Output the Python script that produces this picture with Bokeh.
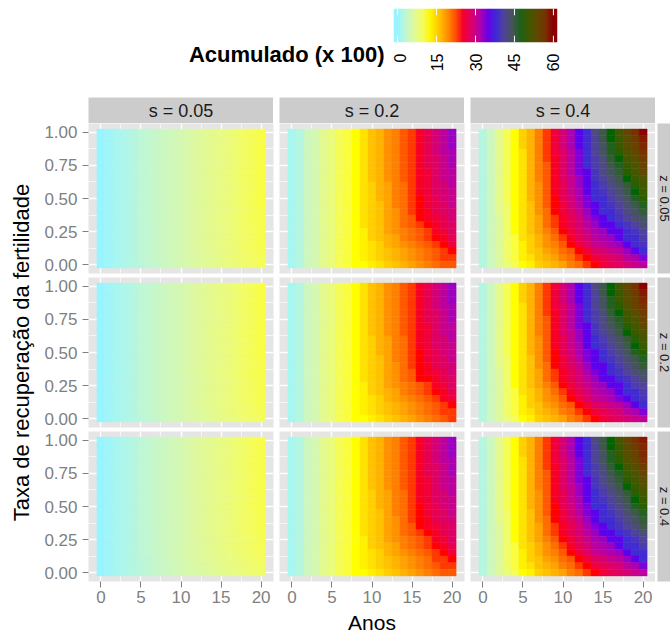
import math
import numpy as np
from bokeh.plotting import figure
from bokeh.layouts import column, row
from bokeh.models import (LinearColorMapper, FixedTicker, PrintfTickFormatter, Range1d,
                          ColumnDataSource, Spacer, Grid)
from bokeh.core.properties import value
from bokeh.embed import file_html
from bokeh.resources import INLINE

# ---------------------------------------------------------------- data
anos = list(range(21))
# grid rows run from recovery rate 1.00 (first row) down to 0.00 (last row)
taxa_linhas = [1.00, 0.95, 0.90, 0.85, 0.80, 0.75, 0.70, 0.65, 0.60, 0.55, 0.50,
               0.45, 0.40, 0.35, 0.30, 0.25, 0.20, 0.15, 0.10, 0.05, 0.00]
s_rotulos = ["s = 0.05", "s = 0.2", "s = 0.4"]
z_rotulos = ["z = 0.05", "z = 0.2", "z = 0.4"]
x_ticks = [0, 5, 10, 15, 20]
x_minor = [2.5, 7.5, 12.5, 17.5]
y_ticks = [0.0, 0.25, 0.5, 0.75, 1.0]
y_minor = [0.125, 0.375, 0.625, 0.875]
legenda_ticks = [0, 15, 30, 45, 60]

acum_s005_z005 = [
    [0.0, 0.5, 1.1, 1.6, 2.1, 2.6, 3.1, 3.6, 4.1, 4.6, 5.1, 5.6, 6.1, 6.6, 7.2, 7.7, 8.2, 8.8, 9.4, 10.0, 10.6],
    [0.0, 0.5, 1.1, 1.6, 2.1, 2.6, 3.1, 3.6, 4.1, 4.6, 5.1, 5.6, 6.1, 6.6, 7.2, 7.7, 8.2, 8.8, 9.4, 10.0, 10.6],
    [0.0, 0.5, 1.1, 1.6, 2.1, 2.6, 3.1, 3.6, 4.1, 4.6, 5.1, 5.6, 6.1, 6.6, 7.2, 7.7, 8.2, 8.8, 9.4, 10.0, 10.6],
    [0.0, 0.5, 1.1, 1.6, 2.1, 2.6, 3.1, 3.6, 4.1, 4.6, 5.1, 5.6, 6.1, 6.6, 7.2, 7.7, 8.2, 8.8, 9.4, 10.0, 10.6],
    [0.0, 0.5, 1.1, 1.6, 2.1, 2.6, 3.1, 3.6, 4.1, 4.6, 5.1, 5.6, 6.1, 6.6, 7.2, 7.7, 8.2, 8.8, 9.4, 10.0, 10.6],
    [0.0, 0.5, 1.1, 1.6, 2.1, 2.6, 3.1, 3.6, 4.1, 4.6, 5.1, 5.6, 6.1, 6.6, 7.2, 7.7, 8.2, 8.8, 9.4, 10.0, 10.6],
    [0.0, 0.5, 1.1, 1.6, 2.1, 2.6, 3.1, 3.6, 4.1, 4.6, 5.1, 5.6, 6.1, 6.6, 7.2, 7.7, 8.2, 8.8, 9.4, 10.0, 10.6],
    [0.0, 0.5, 1.1, 1.6, 2.1, 2.6, 3.1, 3.6, 4.1, 4.6, 5.1, 5.6, 6.1, 6.6, 7.2, 7.7, 8.2, 8.8, 9.4, 10.0, 10.6],
    [0.0, 0.5, 1.1, 1.6, 2.1, 2.6, 3.1, 3.6, 4.1, 4.6, 5.1, 5.6, 6.1, 6.6, 7.2, 7.7, 8.2, 8.8, 9.4, 10.0, 10.6],
    [0.0, 0.5, 1.1, 1.6, 2.1, 2.6, 3.1, 3.6, 4.1, 4.6, 5.1, 5.6, 6.1, 6.6, 7.2, 7.7, 8.2, 8.8, 9.4, 10.0, 10.6],
    [0.0, 0.5, 1.1, 1.6, 2.1, 2.6, 3.1, 3.6, 4.1, 4.6, 5.1, 5.6, 6.1, 6.6, 7.2, 7.7, 8.2, 8.8, 9.4, 10.0, 10.6],
    [0.0, 0.5, 1.1, 1.6, 2.1, 2.6, 3.1, 3.6, 4.1, 4.6, 5.1, 5.6, 6.1, 6.6, 7.2, 7.7, 8.2, 8.8, 9.4, 10.0, 10.6],
    [0.0, 0.5, 1.1, 1.6, 2.1, 2.6, 3.1, 3.6, 4.1, 4.6, 5.1, 5.6, 6.1, 6.6, 7.2, 7.7, 8.2, 8.8, 9.4, 10.0, 10.5],
    [0.0, 0.5, 1.1, 1.6, 2.1, 2.6, 3.1, 3.6, 4.1, 4.6, 5.1, 5.6, 6.1, 6.6, 7.2, 7.7, 8.2, 8.8, 9.4, 10.0, 10.5],
    [0.0, 0.5, 1.1, 1.6, 2.1, 2.6, 3.1, 3.6, 4.1, 4.6, 5.1, 5.6, 6.1, 6.6, 7.2, 7.7, 8.2, 8.8, 9.4, 9.9, 10.5],
    [0.0, 0.5, 1.1, 1.6, 2.1, 2.6, 3.1, 3.6, 4.1, 4.6, 5.1, 5.6, 6.1, 6.6, 7.1, 7.7, 8.2, 8.7, 9.3, 9.9, 10.4],
    [0.0, 0.5, 1.1, 1.6, 2.1, 2.6, 3.1, 3.6, 4.1, 4.6, 5.1, 5.6, 6.1, 6.6, 7.1, 7.6, 8.1, 8.7, 9.3, 9.8, 10.4],
    [0.0, 0.5, 1.1, 1.6, 2.1, 2.6, 3.1, 3.6, 4.1, 4.6, 5.1, 5.6, 6.1, 6.6, 7.1, 7.6, 8.1, 8.6, 9.2, 9.8, 10.3],
    [0.0, 0.5, 1.1, 1.6, 2.1, 2.6, 3.1, 3.6, 4.1, 4.6, 5.1, 5.6, 6.1, 6.6, 7.1, 7.6, 8.1, 8.6, 9.2, 9.7, 10.2],
    [0.0, 0.5, 1.1, 1.6, 2.1, 2.6, 3.1, 3.6, 4.1, 4.6, 5.0, 5.5, 6.0, 6.5, 7.0, 7.5, 8.0, 8.5, 9.0, 9.5, 10.0],
    [0.0, 0.5, 1.0, 1.5, 2.0, 2.5, 3.0, 3.5, 4.0, 4.5, 5.0, 5.4, 5.9, 6.4, 6.9, 7.3, 7.8, 8.3, 8.8, 9.2, 9.7],
]

acum_s005_z02 = [
    [0.0, 0.5, 1.1, 1.6, 2.1, 2.6, 3.1, 3.6, 4.1, 4.6, 5.1, 5.6, 6.1, 6.6, 7.2, 7.7, 8.2, 8.8, 9.4, 10.0, 10.6],
    [0.0, 0.5, 1.1, 1.6, 2.1, 2.6, 3.1, 3.6, 4.1, 4.6, 5.1, 5.6, 6.1, 6.6, 7.2, 7.7, 8.2, 8.8, 9.4, 10.0, 10.6],
    [0.0, 0.5, 1.1, 1.6, 2.1, 2.6, 3.1, 3.6, 4.1, 4.6, 5.1, 5.6, 6.1, 6.6, 7.2, 7.7, 8.2, 8.8, 9.4, 10.0, 10.6],
    [0.0, 0.5, 1.1, 1.6, 2.1, 2.6, 3.1, 3.6, 4.1, 4.6, 5.1, 5.6, 6.1, 6.6, 7.2, 7.7, 8.2, 8.8, 9.4, 10.0, 10.6],
    [0.0, 0.5, 1.1, 1.6, 2.1, 2.6, 3.1, 3.6, 4.1, 4.6, 5.1, 5.6, 6.1, 6.6, 7.2, 7.7, 8.2, 8.8, 9.4, 10.0, 10.6],
    [0.0, 0.5, 1.1, 1.6, 2.1, 2.6, 3.1, 3.6, 4.1, 4.6, 5.1, 5.6, 6.1, 6.6, 7.2, 7.7, 8.2, 8.8, 9.4, 10.0, 10.6],
    [0.0, 0.5, 1.1, 1.6, 2.1, 2.6, 3.1, 3.6, 4.1, 4.6, 5.1, 5.6, 6.1, 6.6, 7.2, 7.7, 8.2, 8.8, 9.4, 10.0, 10.6],
    [0.0, 0.5, 1.1, 1.6, 2.1, 2.6, 3.1, 3.6, 4.1, 4.6, 5.1, 5.6, 6.1, 6.6, 7.2, 7.7, 8.2, 8.8, 9.4, 10.0, 10.6],
    [0.0, 0.5, 1.1, 1.6, 2.1, 2.6, 3.1, 3.6, 4.1, 4.6, 5.1, 5.6, 6.1, 6.6, 7.2, 7.7, 8.2, 8.8, 9.4, 10.0, 10.6],
    [0.0, 0.5, 1.1, 1.6, 2.1, 2.6, 3.1, 3.6, 4.1, 4.6, 5.1, 5.6, 6.1, 6.6, 7.2, 7.7, 8.2, 8.8, 9.4, 10.0, 10.6],
    [0.0, 0.5, 1.1, 1.6, 2.1, 2.6, 3.1, 3.6, 4.1, 4.6, 5.1, 5.6, 6.1, 6.6, 7.2, 7.7, 8.2, 8.8, 9.4, 10.0, 10.6],
    [0.0, 0.5, 1.1, 1.6, 2.1, 2.6, 3.1, 3.6, 4.1, 4.6, 5.1, 5.6, 6.1, 6.6, 7.2, 7.7, 8.2, 8.8, 9.4, 10.0, 10.6],
    [0.0, 0.5, 1.1, 1.6, 2.1, 2.6, 3.1, 3.6, 4.1, 4.6, 5.1, 5.6, 6.1, 6.6, 7.2, 7.7, 8.2, 8.8, 9.4, 10.0, 10.5],
    [0.0, 0.5, 1.1, 1.6, 2.1, 2.6, 3.1, 3.6, 4.1, 4.6, 5.1, 5.6, 6.1, 6.6, 7.2, 7.7, 8.2, 8.8, 9.4, 10.0, 10.5],
    [0.0, 0.5, 1.1, 1.6, 2.1, 2.6, 3.1, 3.6, 4.1, 4.6, 5.1, 5.6, 6.1, 6.6, 7.2, 7.7, 8.2, 8.8, 9.4, 9.9, 10.5],
    [0.0, 0.5, 1.1, 1.6, 2.1, 2.6, 3.1, 3.6, 4.1, 4.6, 5.1, 5.6, 6.1, 6.6, 7.1, 7.7, 8.2, 8.7, 9.3, 9.9, 10.4],
    [0.0, 0.5, 1.1, 1.6, 2.1, 2.6, 3.1, 3.6, 4.1, 4.6, 5.1, 5.6, 6.1, 6.6, 7.1, 7.6, 8.1, 8.7, 9.3, 9.8, 10.4],
    [0.0, 0.5, 1.1, 1.6, 2.1, 2.6, 3.1, 3.6, 4.1, 4.6, 5.1, 5.6, 6.1, 6.6, 7.1, 7.6, 8.1, 8.6, 9.2, 9.8, 10.3],
    [0.0, 0.5, 1.1, 1.6, 2.1, 2.6, 3.1, 3.6, 4.1, 4.6, 5.1, 5.6, 6.1, 6.6, 7.1, 7.6, 8.1, 8.6, 9.1, 9.7, 10.2],
    [0.0, 0.5, 1.1, 1.6, 2.1, 2.6, 3.1, 3.6, 4.1, 4.6, 5.0, 5.5, 6.0, 6.5, 7.0, 7.5, 8.0, 8.5, 9.0, 9.5, 10.0],
    [0.0, 0.5, 1.0, 1.5, 2.0, 2.5, 3.0, 3.5, 4.0, 4.5, 5.0, 5.4, 5.9, 6.4, 6.9, 7.3, 7.8, 8.2, 8.7, 9.1, 9.6],
]

acum_s005_z04 = [
    [0.0, 0.5, 1.1, 1.6, 2.1, 2.6, 3.1, 3.6, 4.1, 4.6, 5.1, 5.6, 6.1, 6.6, 7.1, 7.6, 8.1, 8.7, 9.3, 9.9, 10.5],
    [0.0, 0.5, 1.1, 1.6, 2.1, 2.6, 3.1, 3.6, 4.1, 4.6, 5.1, 5.6, 6.1, 6.6, 7.1, 7.6, 8.1, 8.7, 9.3, 9.9, 10.5],
    [0.0, 0.5, 1.1, 1.6, 2.1, 2.6, 3.1, 3.6, 4.1, 4.6, 5.1, 5.6, 6.1, 6.6, 7.1, 7.6, 8.1, 8.7, 9.3, 9.9, 10.5],
    [0.0, 0.5, 1.1, 1.6, 2.1, 2.6, 3.1, 3.6, 4.1, 4.6, 5.1, 5.6, 6.1, 6.6, 7.1, 7.6, 8.1, 8.7, 9.3, 9.9, 10.5],
    [0.0, 0.5, 1.1, 1.6, 2.1, 2.6, 3.1, 3.6, 4.1, 4.6, 5.1, 5.6, 6.1, 6.6, 7.1, 7.6, 8.1, 8.7, 9.3, 9.9, 10.5],
    [0.0, 0.5, 1.1, 1.6, 2.1, 2.6, 3.1, 3.6, 4.1, 4.6, 5.1, 5.6, 6.1, 6.6, 7.1, 7.6, 8.1, 8.7, 9.3, 9.9, 10.5],
    [0.0, 0.5, 1.1, 1.6, 2.1, 2.6, 3.1, 3.6, 4.1, 4.6, 5.1, 5.6, 6.1, 6.6, 7.1, 7.6, 8.1, 8.7, 9.3, 9.9, 10.5],
    [0.0, 0.5, 1.1, 1.6, 2.1, 2.6, 3.1, 3.6, 4.1, 4.6, 5.1, 5.6, 6.1, 6.6, 7.1, 7.6, 8.1, 8.7, 9.3, 9.9, 10.5],
    [0.0, 0.5, 1.1, 1.6, 2.1, 2.6, 3.1, 3.6, 4.1, 4.6, 5.1, 5.6, 6.1, 6.6, 7.1, 7.6, 8.1, 8.7, 9.3, 9.9, 10.5],
    [0.0, 0.5, 1.1, 1.6, 2.1, 2.6, 3.1, 3.6, 4.1, 4.6, 5.1, 5.6, 6.1, 6.6, 7.1, 7.6, 8.1, 8.7, 9.3, 9.9, 10.5],
    [0.0, 0.5, 1.1, 1.6, 2.1, 2.6, 3.1, 3.6, 4.1, 4.6, 5.1, 5.6, 6.1, 6.6, 7.1, 7.6, 8.1, 8.7, 9.3, 9.9, 10.4],
    [0.0, 0.5, 1.1, 1.6, 2.1, 2.6, 3.1, 3.6, 4.1, 4.6, 5.1, 5.6, 6.1, 6.6, 7.1, 7.6, 8.1, 8.7, 9.3, 9.9, 10.4],
    [0.0, 0.5, 1.1, 1.6, 2.1, 2.6, 3.1, 3.6, 4.1, 4.6, 5.1, 5.6, 6.1, 6.6, 7.1, 7.6, 8.1, 8.7, 9.3, 9.8, 10.4],
    [0.0, 0.5, 1.1, 1.6, 2.1, 2.6, 3.1, 3.6, 4.1, 4.6, 5.1, 5.6, 6.1, 6.6, 7.1, 7.6, 8.1, 8.7, 9.2, 9.8, 10.3],
    [0.0, 0.5, 1.1, 1.6, 2.1, 2.6, 3.1, 3.6, 4.1, 4.6, 5.1, 5.6, 6.1, 6.6, 7.1, 7.6, 8.1, 8.6, 9.2, 9.7, 10.2],
    [0.0, 0.5, 1.1, 1.6, 2.1, 2.6, 3.1, 3.6, 4.1, 4.6, 5.1, 5.6, 6.1, 6.6, 7.1, 7.6, 8.1, 8.6, 9.1, 9.6, 10.1],
    [0.0, 0.5, 1.1, 1.6, 2.1, 2.6, 3.1, 3.6, 4.1, 4.6, 5.1, 5.6, 6.1, 6.5, 7.0, 7.5, 8.0, 8.5, 9.0, 9.5, 10.0],
    [0.0, 0.5, 1.1, 1.6, 2.1, 2.6, 3.1, 3.6, 4.1, 4.6, 5.0, 5.5, 6.0, 6.5, 7.0, 7.4, 7.9, 8.4, 8.9, 9.4, 9.8],
    [0.0, 0.5, 1.0, 1.5, 2.0, 2.5, 3.0, 3.5, 4.0, 4.5, 5.0, 5.4, 5.9, 6.4, 6.8, 7.3, 7.8, 8.2, 8.7, 9.1, 9.5],
    [0.0, 0.5, 1.0, 1.5, 2.0, 2.5, 3.0, 3.5, 3.9, 4.4, 4.9, 5.3, 5.8, 6.2, 6.7, 7.1, 7.5, 8.0, 8.4, 8.8, 9.2],
    [0.0, 0.5, 1.0, 1.5, 2.0, 2.4, 2.9, 3.4, 3.8, 4.3, 4.7, 5.2, 5.6, 6.0, 6.5, 6.9, 7.3, 7.7, 8.1, 8.5, 8.9],
]

acum_s02_z005 = [
    [1, 2, 4, 5, 7, 8, 10, 11, 12, 14, 16, 17, 19, 20, 22, 23, 25, 27, 29, 31, 33],
    [1, 2, 4, 5, 7, 8, 10, 11, 12, 14, 16, 17, 19, 20, 22, 23, 25, 27, 29, 31, 33],
    [1, 2, 4, 5, 7, 8, 10, 11, 12, 14, 16, 17, 19, 20, 22, 23, 25, 27, 29, 31, 33],
    [1, 2, 4, 5, 7, 8, 10, 11, 12, 14, 16, 17, 19, 20, 22, 23, 25, 27, 29, 31, 32],
    [1, 2, 4, 5, 7, 8, 10, 11, 12, 14, 16, 17, 19, 20, 22, 23, 25, 27, 28, 30, 32],
    [1, 2, 4, 5, 7, 8, 10, 11, 12, 14, 16, 17, 19, 20, 22, 23, 25, 27, 28, 30, 32],
    [1, 2, 4, 5, 7, 8, 10, 11, 12, 14, 16, 17, 19, 20, 22, 23, 25, 26, 28, 30, 31],
    [1, 2, 4, 5, 7, 8, 10, 11, 12, 14, 16, 17, 19, 20, 22, 23, 25, 26, 28, 30, 31],
    [1, 2, 4, 5, 7, 8, 10, 11, 12, 14, 15, 17, 18, 20, 21, 23, 25, 26, 28, 29, 31],
    [1, 2, 4, 5, 7, 8, 10, 11, 12, 14, 15, 17, 18, 20, 21, 23, 25, 26, 28, 29, 30],
    [1, 2, 4, 5, 7, 8, 10, 11, 12, 14, 15, 17, 18, 20, 21, 23, 24, 26, 27, 29, 30],
    [1, 2, 4, 5, 7, 8, 10, 11, 12, 14, 15, 16, 18, 20, 21, 23, 24, 26, 27, 28, 30],
    [1, 2, 4, 5, 7, 8, 10, 11, 12, 14, 15, 16, 18, 19, 21, 23, 24, 25, 27, 28, 29],
    [1, 2, 4, 5, 7, 8, 10, 11, 12, 14, 15, 16, 18, 19, 21, 22, 24, 25, 26, 27, 29],
    [1, 2, 4, 5, 7, 8, 10, 11, 12, 14, 15, 16, 18, 19, 21, 22, 23, 24, 25, 27, 28],
    [1, 2, 4, 5, 7, 8, 10, 11, 12, 13, 15, 16, 18, 19, 20, 21, 22, 23, 25, 26, 28],
    [1, 2, 4, 5, 7, 8, 10, 11, 12, 13, 15, 16, 17, 18, 20, 21, 22, 23, 24, 25, 27],
    [1, 2, 4, 5, 7, 8, 10, 11, 12, 13, 14, 15, 17, 18, 19, 20, 21, 22, 23, 24, 26],
    [1, 2, 4, 5, 7, 8, 10, 11, 12, 13, 14, 15, 16, 17, 18, 19, 20, 21, 22, 23, 24],
    [1, 2, 4, 5, 7, 8, 10, 11, 12, 13, 14, 15, 16, 17, 18, 19, 20, 21, 22, 23, 23],
    [1, 2, 4, 5, 7, 8, 10, 11, 12, 12, 13, 14, 15, 16, 17, 18, 19, 20, 21, 22, 22],
]

acum_s02_z02 = [
    [1, 2, 4, 5, 7, 8, 10, 11, 12, 14, 16, 17, 19, 20, 22, 23, 25, 27, 29, 31, 33],
    [1, 2, 4, 5, 7, 8, 10, 11, 12, 14, 16, 17, 19, 20, 22, 23, 25, 27, 29, 31, 33],
    [1, 2, 4, 5, 7, 8, 10, 11, 12, 14, 16, 17, 19, 20, 22, 23, 25, 27, 29, 31, 33],
    [1, 2, 4, 5, 7, 8, 10, 11, 12, 14, 16, 17, 19, 20, 22, 23, 25, 27, 29, 31, 32],
    [1, 2, 4, 5, 7, 8, 10, 11, 12, 14, 16, 17, 19, 20, 22, 23, 25, 27, 28, 30, 32],
    [1, 2, 4, 5, 7, 8, 10, 11, 12, 14, 16, 17, 19, 20, 22, 23, 25, 27, 28, 30, 32],
    [1, 2, 4, 5, 7, 8, 10, 11, 12, 14, 16, 17, 19, 20, 22, 23, 25, 26, 28, 30, 31],
    [1, 2, 4, 5, 7, 8, 10, 11, 12, 14, 16, 17, 19, 20, 22, 23, 25, 26, 28, 30, 31],
    [1, 2, 4, 5, 7, 8, 10, 11, 12, 14, 15, 17, 18, 20, 21, 23, 25, 26, 28, 29, 31],
    [1, 2, 4, 5, 7, 8, 10, 11, 12, 14, 15, 17, 18, 20, 21, 23, 25, 26, 28, 29, 30],
    [1, 2, 4, 5, 7, 8, 10, 11, 12, 14, 15, 17, 18, 20, 21, 23, 24, 26, 27, 29, 30],
    [1, 2, 4, 5, 7, 8, 10, 11, 12, 14, 15, 16, 18, 20, 21, 23, 24, 26, 27, 28, 30],
    [1, 2, 4, 5, 7, 8, 10, 11, 12, 14, 15, 16, 18, 19, 21, 23, 24, 25, 27, 28, 29],
    [1, 2, 4, 5, 7, 8, 10, 11, 12, 14, 15, 16, 18, 19, 21, 22, 24, 25, 26, 27, 29],
    [1, 2, 4, 5, 7, 8, 10, 11, 12, 14, 15, 16, 18, 19, 21, 22, 24, 24, 25, 27, 28],
    [1, 2, 4, 5, 7, 8, 10, 11, 12, 13, 15, 16, 18, 19, 20, 21, 22, 23, 25, 26, 28],
    [1, 2, 4, 5, 7, 8, 10, 11, 12, 13, 15, 16, 17, 18, 20, 21, 22, 23, 24, 25, 27],
    [1, 2, 4, 5, 7, 8, 10, 11, 12, 13, 14, 15, 17, 18, 19, 20, 21, 22, 23, 25, 26],
    [1, 2, 4, 5, 7, 8, 10, 11, 12, 13, 14, 15, 16, 17, 18, 19, 20, 21, 22, 23, 24],
    [1, 2, 4, 5, 7, 8, 10, 11, 12, 13, 14, 15, 16, 17, 18, 19, 20, 21, 22, 23, 23],
    [1, 2, 4, 5, 7, 8, 10, 11, 12, 12, 13, 14, 15, 16, 17, 18, 19, 20, 21, 22, 23],
]

acum_s02_z04 = [
    [1, 2, 4, 5, 7, 8, 10, 11, 12, 14, 16, 17, 19, 20, 22, 23, 25, 27, 29, 31, 33],
    [1, 2, 4, 5, 7, 8, 10, 11, 12, 14, 16, 17, 19, 20, 22, 23, 25, 27, 29, 31, 33],
    [1, 2, 4, 5, 7, 8, 10, 11, 12, 14, 16, 17, 19, 20, 22, 23, 25, 27, 29, 31, 33],
    [1, 2, 4, 5, 7, 8, 10, 11, 12, 14, 16, 17, 19, 20, 22, 23, 25, 27, 29, 31, 32],
    [1, 2, 4, 5, 7, 8, 10, 11, 12, 14, 16, 17, 19, 20, 22, 23, 25, 27, 28, 30, 32],
    [1, 2, 4, 5, 7, 8, 10, 11, 12, 14, 16, 17, 19, 20, 22, 23, 25, 27, 28, 30, 32],
    [1, 2, 4, 5, 7, 8, 10, 11, 12, 14, 16, 17, 19, 20, 22, 23, 25, 26, 28, 30, 31],
    [1, 2, 4, 5, 7, 8, 10, 11, 12, 14, 16, 17, 19, 20, 22, 23, 25, 26, 28, 30, 31],
    [1, 2, 4, 5, 7, 8, 10, 11, 12, 14, 15, 17, 18, 20, 21, 23, 25, 26, 28, 29, 31],
    [1, 2, 4, 5, 7, 8, 10, 11, 12, 14, 15, 17, 18, 20, 21, 23, 25, 26, 28, 29, 30],
    [1, 2, 4, 5, 7, 8, 10, 11, 12, 14, 15, 17, 18, 20, 21, 23, 24, 26, 27, 29, 30],
    [1, 2, 4, 5, 7, 8, 10, 11, 12, 14, 15, 16, 18, 20, 21, 23, 24, 26, 27, 28, 30],
    [1, 2, 4, 5, 7, 8, 10, 11, 12, 14, 15, 16, 18, 19, 21, 23, 24, 25, 27, 28, 29],
    [1, 2, 4, 5, 7, 8, 10, 11, 12, 14, 15, 16, 18, 19, 21, 22, 24, 25, 26, 27, 28],
    [1, 2, 4, 5, 7, 8, 10, 11, 12, 14, 15, 16, 18, 19, 21, 22, 23, 24, 25, 27, 28],
    [1, 2, 4, 5, 7, 8, 10, 11, 12, 13, 15, 16, 18, 19, 20, 21, 22, 23, 25, 26, 28],
    [1, 2, 4, 5, 7, 8, 10, 11, 12, 13, 15, 16, 17, 18, 20, 21, 22, 23, 24, 25, 27],
    [1, 2, 4, 5, 7, 8, 10, 11, 12, 13, 14, 15, 17, 18, 19, 20, 21, 22, 23, 24, 26],
    [1, 2, 4, 5, 7, 8, 10, 11, 12, 13, 14, 15, 16, 17, 18, 19, 20, 21, 23, 23, 24],
    [1, 2, 4, 5, 7, 8, 10, 11, 12, 13, 14, 15, 16, 17, 18, 19, 20, 21, 22, 23, 23],
    [1, 2, 4, 5, 7, 8, 10, 11, 12, 12, 13, 14, 15, 16, 17, 18, 19, 20, 21, 22, 22],
]

acum_s04_z005 = [
    [2, 4, 7, 10, 12, 15, 17, 20, 23, 26, 29, 32, 35, 38, 42, 45, 48, 51, 54, 57, 60],
    [2, 4, 7, 10, 12, 15, 17, 20, 23, 26, 29, 32, 35, 38, 41, 45, 48, 50, 53, 56, 59],
    [2, 4, 7, 10, 12, 15, 17, 20, 23, 26, 29, 32, 35, 38, 41, 44, 47, 50, 53, 55, 58],
    [2, 4, 7, 10, 12, 14, 17, 20, 23, 26, 28, 31, 34, 38, 41, 44, 47, 49, 52, 54, 57],
    [2, 4, 7, 10, 12, 14, 17, 20, 23, 25, 28, 31, 34, 38, 40, 43, 46, 48, 51, 53, 56],
    [2, 4, 7, 10, 12, 14, 17, 20, 22, 25, 28, 31, 34, 38, 40, 42, 45, 47, 50, 52, 55],
    [2, 4, 7, 10, 12, 14, 17, 20, 22, 25, 28, 31, 34, 35, 39, 42, 44, 46, 49, 51, 54],
    [2, 4, 7, 10, 12, 14, 17, 20, 22, 25, 28, 30, 33, 35, 39, 41, 43, 45, 48, 50, 52],
    [2, 4, 7, 10, 12, 14, 17, 19, 22, 25, 27, 30, 33, 35, 38, 40, 42, 44, 46, 49, 51],
    [2, 4, 7, 10, 12, 14, 17, 19, 22, 25, 27, 30, 32, 35, 38, 39, 41, 43, 45, 48, 50],
    [2, 4, 7, 10, 12, 14, 17, 19, 22, 24, 27, 29, 32, 34, 38, 38, 40, 42, 44, 47, 49],
    [2, 4, 7, 9, 12, 14, 16, 19, 22, 24, 26, 29, 31, 34, 35, 38, 39, 41, 43, 45, 47],
    [2, 4, 7, 9, 12, 14, 16, 19, 21, 24, 26, 28, 30, 33, 35, 38, 38, 40, 42, 44, 46],
    [2, 4, 6, 9, 12, 14, 16, 18, 21, 23, 25, 27, 29, 32, 34, 35, 38, 39, 41, 43, 44],
    [2, 4, 6, 9, 12, 14, 16, 18, 21, 23, 25, 27, 29, 31, 33, 35, 35, 38, 39, 41, 43],
    [2, 4, 6, 9, 12, 14, 16, 18, 20, 22, 24, 26, 28, 30, 32, 33, 35, 35, 38, 39, 41],
    [2, 4, 6, 9, 11, 14, 15, 17, 19, 21, 23, 25, 27, 29, 31, 32, 33, 35, 38, 38, 40],
    [2, 4, 6, 9, 11, 13, 15, 17, 19, 20, 22, 24, 26, 28, 30, 31, 32, 33, 35, 38, 39],
    [2, 4, 6, 9, 11, 13, 15, 16, 18, 19, 21, 22, 24, 26, 28, 29, 30, 31, 33, 35, 38],
    [2, 4, 6, 9, 11, 13, 14, 16, 17, 18, 20, 21, 23, 24, 26, 27, 28, 29, 31, 32, 34],
    [2, 4, 6, 8, 10, 12, 13, 15, 16, 17, 18, 20, 21, 23, 24, 26, 27, 28, 29, 30, 31],
]

acum_s04_z02 = [
    [2, 4, 7, 10, 12, 15, 17, 20, 23, 26, 29, 32, 35, 38, 42, 45, 48, 51, 54, 57, 60],
    [2, 4, 7, 10, 12, 15, 17, 20, 23, 26, 29, 32, 35, 38, 41, 45, 48, 50, 53, 56, 59],
    [2, 4, 7, 10, 12, 15, 17, 20, 23, 26, 29, 32, 35, 38, 41, 44, 47, 50, 53, 55, 58],
    [2, 4, 7, 10, 12, 14, 17, 20, 23, 26, 28, 31, 34, 38, 41, 44, 47, 49, 52, 55, 57],
    [2, 4, 7, 10, 12, 14, 17, 20, 23, 25, 28, 31, 34, 38, 40, 43, 46, 48, 51, 53, 56],
    [2, 4, 7, 10, 12, 14, 17, 20, 22, 25, 28, 31, 34, 38, 40, 42, 45, 47, 50, 52, 55],
    [2, 4, 7, 10, 12, 14, 17, 20, 22, 25, 28, 31, 34, 35, 39, 42, 44, 46, 49, 51, 54],
    [2, 4, 7, 10, 12, 14, 17, 20, 22, 25, 28, 30, 33, 35, 39, 41, 43, 45, 48, 50, 52],
    [2, 4, 7, 10, 12, 14, 17, 19, 22, 25, 27, 30, 33, 35, 38, 40, 42, 44, 46, 49, 51],
    [2, 4, 7, 10, 12, 14, 17, 19, 22, 25, 27, 30, 32, 35, 38, 39, 41, 43, 45, 48, 50],
    [2, 4, 7, 10, 12, 14, 17, 19, 22, 24, 27, 29, 32, 34, 35, 38, 40, 42, 44, 47, 49],
    [2, 4, 7, 9, 12, 14, 16, 19, 22, 24, 26, 29, 31, 34, 35, 38, 39, 41, 43, 45, 47],
    [2, 4, 7, 9, 12, 14, 16, 19, 21, 24, 26, 28, 30, 33, 35, 35, 38, 40, 42, 44, 46],
    [2, 4, 6, 9, 12, 14, 16, 18, 21, 23, 25, 27, 29, 32, 34, 35, 38, 39, 41, 43, 44],
    [2, 4, 6, 9, 12, 14, 16, 18, 21, 23, 25, 27, 29, 31, 33, 35, 35, 38, 39, 41, 43],
    [2, 4, 6, 9, 12, 14, 16, 18, 20, 22, 24, 26, 28, 30, 32, 33, 35, 35, 38, 40, 41],
    [2, 4, 6, 9, 11, 14, 15, 17, 19, 21, 23, 25, 27, 29, 31, 32, 33, 35, 38, 38, 40],
    [2, 4, 6, 9, 11, 13, 15, 17, 19, 20, 22, 24, 26, 28, 30, 31, 32, 34, 35, 38, 39],
    [2, 4, 6, 9, 11, 13, 15, 16, 18, 19, 21, 22, 24, 26, 28, 29, 30, 31, 33, 35, 38],
    [2, 4, 6, 9, 11, 13, 14, 16, 17, 18, 20, 21, 23, 24, 26, 27, 28, 29, 31, 32, 34],
    [2, 4, 6, 8, 10, 12, 13, 15, 16, 17, 18, 20, 21, 23, 24, 26, 27, 28, 29, 30, 31],
]

acum_s04_z04 = [
    [2, 4, 7, 10, 12, 15, 17, 20, 23, 26, 29, 32, 35, 38, 42, 45, 48, 51, 54, 57, 59],
    [2, 4, 7, 10, 12, 15, 17, 20, 23, 26, 29, 32, 35, 38, 41, 45, 48, 50, 53, 56, 58],
    [2, 4, 7, 10, 12, 15, 17, 20, 23, 26, 29, 32, 35, 38, 41, 44, 47, 50, 53, 55, 58],
    [2, 4, 7, 10, 12, 14, 17, 20, 23, 26, 28, 31, 34, 38, 41, 44, 47, 49, 52, 54, 57],
    [2, 4, 7, 10, 12, 14, 17, 20, 23, 25, 28, 31, 34, 38, 40, 43, 46, 48, 51, 53, 56],
    [2, 4, 7, 10, 12, 14, 17, 20, 22, 25, 28, 31, 34, 38, 40, 42, 45, 47, 50, 52, 55],
    [2, 4, 7, 10, 12, 14, 17, 20, 22, 25, 28, 31, 34, 35, 39, 42, 44, 46, 49, 51, 53],
    [2, 4, 7, 10, 12, 14, 17, 20, 22, 25, 28, 30, 33, 35, 39, 41, 43, 45, 48, 50, 52],
    [2, 4, 7, 10, 12, 14, 17, 19, 22, 25, 27, 30, 33, 35, 38, 40, 42, 44, 46, 49, 51],
    [2, 4, 7, 10, 12, 14, 17, 19, 22, 25, 27, 30, 32, 35, 38, 39, 41, 43, 45, 48, 50],
    [2, 4, 7, 10, 12, 14, 17, 19, 22, 24, 27, 29, 32, 34, 38, 38, 40, 42, 44, 47, 49],
    [2, 4, 7, 9, 12, 14, 16, 19, 22, 24, 26, 29, 31, 34, 35, 38, 39, 41, 43, 45, 47],
    [2, 4, 7, 9, 12, 14, 16, 19, 21, 24, 26, 28, 30, 33, 35, 38, 38, 40, 42, 44, 46],
    [2, 4, 6, 9, 12, 14, 16, 18, 21, 23, 25, 27, 29, 32, 34, 35, 38, 39, 41, 43, 45],
    [2, 4, 6, 9, 12, 14, 16, 18, 21, 23, 25, 27, 29, 31, 33, 35, 35, 38, 39, 41, 43],
    [2, 4, 6, 9, 12, 14, 16, 18, 20, 22, 24, 26, 28, 30, 32, 33, 35, 35, 38, 39, 41],
    [2, 4, 6, 9, 11, 14, 15, 17, 19, 21, 23, 25, 27, 29, 31, 32, 33, 35, 38, 38, 40],
    [2, 4, 6, 9, 11, 13, 15, 17, 19, 20, 22, 24, 26, 28, 30, 31, 32, 33, 35, 38, 38],
    [2, 4, 6, 9, 11, 13, 15, 16, 18, 19, 21, 22, 24, 26, 28, 29, 30, 31, 33, 35, 38],
    [2, 4, 6, 9, 11, 13, 14, 16, 17, 18, 20, 21, 23, 24, 26, 27, 28, 29, 31, 32, 34],
    [2, 4, 6, 8, 10, 12, 13, 15, 16, 17, 18, 20, 21, 23, 24, 26, 27, 28, 29, 30, 31],
]

# panels by row (z) and column (s)
grades = [
    [acum_s005_z005, acum_s02_z005, acum_s04_z005],
    [acum_s005_z02, acum_s02_z02, acum_s04_z02],
    [acum_s005_z04, acum_s02_z04, acum_s04_z04],
]

# ---------------------------------------------------------------- colour scale (Lab interpolation)
cores_base = ["#98F5FF", "#FFFF00", "#FF0000", "#0000FF", "#006400", "#8B0000"]


def _hex_para_lab(h):
    rgb = [int(h[i:i + 2], 16) / 255 for i in (1, 3, 5)]
    lin = [c / 12.92 if c <= 0.04045 else ((c + 0.055) / 1.055) ** 2.4 for c in rgb]
    r, g, b = lin
    X = (0.4124564 * r + 0.3575761 * g + 0.1804375 * b) / 0.95047
    Y = 0.2126729 * r + 0.7151522 * g + 0.0721750 * b
    Z = (0.0193339 * r + 0.1191920 * g + 0.9503041 * b) / 1.08883

    def f(t):
        return t ** (1 / 3) if t > 216 / 24389 else (24389 / 27 * t + 16) / 116
    fx, fy, fz = f(X), f(Y), f(Z)
    return np.array([116 * fy - 16, 500 * (fx - fy), 200 * (fy - fz)])


def _lab_para_rgb(lab):
    L, a, b = lab
    fy = (L + 16) / 116
    fx = fy + a / 500
    fz = fy - b / 200

    def finv(t):
        return t ** 3 if t ** 3 > 216 / 24389 else (116 * t - 16) / (24389 / 27)
    X, Y, Z = finv(fx) * 0.95047, finv(fy), finv(fz) * 1.08883
    r = 3.2404542 * X - 1.5371385 * Y - 0.4985314 * Z
    g = -0.9692660 * X + 1.8760108 * Y + 0.0415560 * Z
    bb = 0.0556434 * X - 0.2040259 * Y + 1.0572252 * Z

    def gam(c):
        c = c * 12.92 if c <= 0.0031308 else 1.055 * c ** (1 / 2.4) - 0.055
        return min(max(c, 0.0), 1.0) * 255
    return np.array([gam(r), gam(g), gam(bb)])


def _hex(rgb):
    return "#%02X%02X%02X" % tuple(int(round(c)) for c in rgb)


labs = [_hex_para_lab(c) for c in cores_base]


def cor_em(t):
    """colour of the gradient at relative position t in [0, 1]"""
    t = min(max(t, 0.0), 1.0) * (len(labs) - 1)
    i = min(int(t), len(labs) - 2)
    f = t - i
    return _lab_para_rgb(labs[i] * (1 - f) + labs[i + 1] * f)


paleta = [_hex(cor_em(k / 255)) for k in range(256)]
v_max = max(max(max(lin) for lin in g) for linha in grades for g in linha)
mapa = LinearColorMapper(palette=paleta, low=0, high=v_max)

# the colour bar shows 20 sampled colours blended linearly between them
N_BIN = 20
amostras = [cor_em(k / (N_BIN - 1)) for k in range(N_BIN)]
paleta_barra = []
for k in range(256):
    t = k / 255 * (N_BIN - 1)
    i = min(int(t), N_BIN - 2)
    f = t - i
    paleta_barra.append(_hex(amostras[i] * (1 - f) + amostras[i + 1] * f))
mapa_barra = LinearColorMapper(palette=paleta_barra, low=0, high=v_max)

# ---------------------------------------------------------------- styling helpers
FONTE = "Liberation Sans"
CINZA = "#7F7F7F"
PAINEL_L, PAINEL_A = 185, 150
BORDA_EIXO_X = 29


def estilo_eixo(ax):
    ax.axis_line_color = None
    ax.major_tick_line_color = CINZA
    ax.major_tick_line_width = 1
    ax.major_tick_in = 0
    ax.major_tick_out = 6
    ax.minor_tick_line_color = None
    ax.major_label_text_color = CINZA
    ax.major_label_text_font = FONTE
    ax.major_label_text_font_size = "17px"
    ax.major_label_standoff = 3


def painel(grade, lin, col):
    p = figure(frame_width=PAINEL_L, frame_height=PAINEL_A,
               min_border_left=48 if col == 0 else 0,
               min_border_right=6 if col < 2 else 0,
               min_border_top=0,
               min_border_bottom=BORDA_EIXO_X if lin == 2 else 4,
               x_range=Range1d(-1.55, 21.55), y_range=Range1d(-0.0675, 1.0675),
               x_axis_location="below" if lin == 2 else None,
               y_axis_location="left" if col == 0 else None,
               background_fill_color="#E5E5E5", outline_line_color=None,
               output_backend="svg", toolbar_location=None, title=None)
    p.grid.visible = False
    p.add_layout(Grid(dimension=0, ticker=FixedTicker(ticks=x_ticks, minor_ticks=x_minor),
                      grid_line_color="white", grid_line_width=1.4,
                      minor_grid_line_color="white", minor_grid_line_width=0.6), "center")
    p.add_layout(Grid(dimension=1, ticker=FixedTicker(ticks=y_ticks, minor_ticks=y_minor),
                      grid_line_color="white", grid_line_width=1.4,
                      minor_grid_line_color="white", minor_grid_line_width=0.6), "center")
    xs, ys, vs = [], [], []
    for j, taxa in enumerate(taxa_linhas):
        for i, ano in enumerate(anos):
            xs.append(ano)
            ys.append(taxa)
            vs.append(grade[j][i])
    src = ColumnDataSource(dict(x=xs, y=ys, v=vs))
    cor = {"field": "v", "transform": mapa}
    p.rect(x="x", y="y", width=1, height=0.05, source=src,
           fill_color=cor, line_color=cor, line_width=0.5)
    if lin == 2:
        ax = p.xaxis[0]
        ax.ticker = FixedTicker(ticks=x_ticks)
        estilo_eixo(ax)
    if col == 0:
        ay = p.yaxis[0]
        ay.ticker = FixedTicker(ticks=y_ticks)
        ay.formatter = PrintfTickFormatter(format="%.2f")
        estilo_eixo(ay)
        ay.major_label_standoff = 5
    return p


def fig_vazia(**kw):
    p = figure(x_axis_location=None, y_axis_location=None, outline_line_color=None,
               output_backend="svg", toolbar_location=None, title=None, **kw)
    p.grid.visible = False
    return p


def faixa_topo(rotulo):
    p = fig_vazia(frame_width=PAINEL_L, frame_height=26, min_border=0,
                  x_range=Range1d(0, 1), y_range=Range1d(0, 1),
                  background_fill_color="#CCCCCC")
    p.text(x=[0.5], y=[0.5], text=[rotulo], text_align="center", text_baseline="middle",
           text_font=value(FONTE), text_font_size="18px", text_color="#1A1A1A")
    return p


def faixa_lado(rotulo, lin):
    p = fig_vazia(frame_width=13, frame_height=PAINEL_A, min_border_left=2, min_border_right=0,
                  min_border_top=0, min_border_bottom=BORDA_EIXO_X if lin == 2 else 4,
                  x_range=Range1d(0, 13), y_range=Range1d(0, 1),
                  background_fill_color="#CCCCCC")
    p.text(x=[6.5], y=[0.5], text=[rotulo], angle=-math.pi / 2, text_align="center",
           text_baseline="middle", text_font=value(FONTE), text_font_size="13px",
           text_color="#1A1A1A")
    return p


# ---------------------------------------------------------------- legend (title + colour bar)
leg_titulo = fig_vazia(frame_width=393, frame_height=97, min_border=0,
                       x_range=Range1d(0, 393), y_range=Range1d(0, 97))
leg_titulo.text(x=[384], y=[97 - 46], text=["Acumulado (x 100)"], text_align="right",
                text_baseline="alphabetic", text_font=value(FONTE), text_font_style="bold",
                text_font_size="22px", text_color="black")

meio_bin = v_max / (2 * (N_BIN - 1))
x0, x1 = -meio_bin, v_max + meio_bin
leg = figure(frame_width=164, frame_height=34, min_border_left=0, min_border_right=113,
             min_border_top=8, min_border_bottom=55,
             x_range=Range1d(x0, x1), y_range=Range1d(0, 1),
             x_axis_location="below", y_axis_location=None, outline_line_color=None,
             output_backend="svg", toolbar_location=None, title=None)
leg.grid.visible = False
rampa = np.linspace(x0, x1, 400).reshape(1, -1)
leg.image(image=[rampa], x=x0, y=0, dw=x1 - x0, dh=1, color_mapper=mapa_barra)
n_t = len(legenda_ticks)
leg.segment(x0=legenda_ticks, y0=[0] * n_t, x1=legenda_ticks, y1=[0.2] * n_t,
            line_color="white", line_width=1)
leg.segment(x0=legenda_ticks, y0=[0.8] * n_t, x1=legenda_ticks, y1=[1] * n_t,
            line_color="white", line_width=1)
axl = leg.xaxis[0]
axl.ticker = FixedTicker(ticks=legenda_ticks)
axl.axis_line_color = None
axl.major_tick_line_color = None
axl.minor_tick_line_color = None
axl.major_label_orientation = math.pi / 2
axl.major_label_standoff = 5
axl.major_label_text_font = FONTE
axl.major_label_text_font_size = "16px"
axl.major_label_text_color = "black"

# ---------------------------------------------------------------- axis titles
ALT_INTERNO = 26 + 2 * (PAINEL_A + 4) + PAINEL_A + BORDA_EIXO_X
ALT_XLAB = 636 - 97 - ALT_INTERNO
topo_paineis = 97 + 26
base_paineis = topo_paineis + 3 * PAINEL_A + 8
ylab = fig_vazia(frame_width=40, frame_height=ALT_INTERNO + ALT_XLAB, min_border=0,
                 x_range=Range1d(0, 40), y_range=Range1d(636, 97))
ylab.text(x=[21], y=[(topo_paineis + base_paineis) / 2], text=["Taxa de recuperação da fertilidade"],
          angle=math.pi / 2, text_align="center", text_baseline="middle",
          text_font=value(FONTE), text_font_size="22px", text_color="black")

xlab = fig_vazia(frame_width=630, frame_height=ALT_XLAB, min_border=0,
                 x_range=Range1d(40, 670), y_range=Range1d(636, 636 - ALT_XLAB))
xlab.text(x=[371.5], y=[622], text=["Anos"], text_align="center", text_baseline="middle",
          text_font=value(FONTE), text_font_size="21px", text_color="black")

# ---------------------------------------------------------------- assemble facet grid
linha_faixas = row(Spacer(width=48, height=26), faixa_topo(s_rotulos[0]),
                   Spacer(width=6, height=26), faixa_topo(s_rotulos[1]),
                   Spacer(width=6, height=26), faixa_topo(s_rotulos[2]),
                   Spacer(width=15, height=26))
linhas = [linha_faixas]
for lin in range(3):
    linhas.append(row(*[painel(grades[lin][col], lin, col) for col in range(3)],
                      faixa_lado(z_rotulos[lin], lin)))
linhas.append(xlab)
interno = column(*linhas)
p = column(row(leg_titulo, leg), row(ylab, interno))

open("out.html", "w").write(file_html(p, INLINE))
